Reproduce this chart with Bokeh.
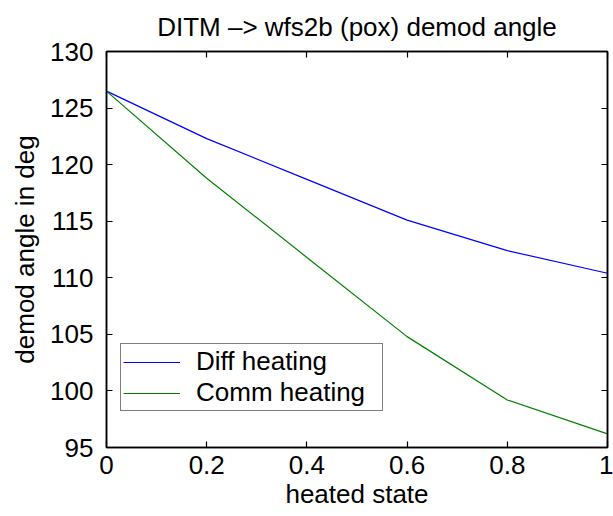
from bokeh.plotting import figure
from bokeh.models import Range1d, FixedTicker, LinearAxis, Legend, LegendItem
from bokeh.embed import file_html
from bokeh.resources import INLINE

# Data
heated_state = [0.0, 0.2, 0.4, 0.6, 0.8, 1.0]
diff_heating = [126.5, 122.3, 118.7, 115.1, 112.4, 110.4]
comm_heating = [126.5, 118.8, 111.8, 104.8, 99.2, 96.2]
x_ticks = [0, 0.2, 0.4, 0.6, 0.8, 1]
y_ticks = [95, 100, 105, 110, 115, 120, 125, 130]

FONT = "Liberation Sans"
FS = "26px"

p = figure(width=613, height=516, output_backend="svg", toolbar_location=None,
           x_range=Range1d(0, 1), y_range=Range1d(95, 130),
           min_border_left=106, min_border_right=6, min_border_top=51, min_border_bottom=69,
           title="DITM \u2013> wfs2b (pox) demod angle")
p.background_fill_color = "white"
p.border_fill_color = "white"
p.outline_line_color = "black"
p.outline_line_width = 1.5
p.grid.visible = False

p.title.text_font = FONT
p.title.text_font_size = FS
p.title.text_font_style = "normal"
p.title.align = "center"
p.title.vertical_align = "top"
p.title.text_color = "black"
p.title.standoff = 16

r1 = p.line(heated_state, diff_heating, line_color="#0000ff", line_width=1.2)
r2 = p.line(heated_state, comm_heating, line_color="#008000", line_width=1.2)

for ax in p.xaxis + p.yaxis:
    ax.major_label_text_font = FONT
    ax.major_label_text_font_size = FS
    ax.major_label_text_color = "black"
    ax.axis_label_text_font = FONT
    ax.axis_label_text_font_size = FS
    ax.axis_label_text_font_style = "normal"
    ax.axis_label_text_color = "black"
    ax.major_tick_in = 6
    ax.major_tick_out = 0
    ax.minor_tick_in = 0
    ax.minor_tick_out = 0
    ax.axis_line_width = 1.5
    ax.major_tick_line_width = 1.2
    ax.axis_line_color = "black"
    ax.major_tick_line_color = "black"

p.xaxis.ticker = FixedTicker(ticks=x_ticks)
p.xaxis.major_label_overrides = {0: "0", 1: "1"}
p.xaxis.axis_label = "heated state"
p.xaxis.major_label_standoff = 8
p.xaxis.axis_label_standoff = 2

p.yaxis.ticker = FixedTicker(ticks=y_ticks)
p.yaxis.axis_label = "demod angle in deg"
p.yaxis.major_label_standoff = 13
p.yaxis.axis_label_standoff = 7

# mirror ticks on top and right (no labels)
top = LinearAxis(ticker=FixedTicker(ticks=x_ticks),
                 major_label_overrides={t: "" for t in x_ticks},
                 major_label_standoff=0, major_tick_in=6, major_tick_out=0,
                 minor_tick_in=0, minor_tick_out=0, axis_line_width=1.5, major_tick_line_width=1.2)
right = LinearAxis(ticker=FixedTicker(ticks=y_ticks),
                   major_label_overrides={t: "" for t in y_ticks},
                   major_label_standoff=0, major_tick_in=6, major_tick_out=0,
                   minor_tick_in=0, minor_tick_out=0, axis_line_width=1.5, major_tick_line_width=1.2)
p.add_layout(top, "above")
p.add_layout(right, "right")

legend = Legend(items=[LegendItem(label="Diff heating", renderers=[r1]),
                       LegendItem(label="Comm heating", renderers=[r2])],
                location=(14, 36))
legend.label_text_font = FONT
legend.label_text_font_size = FS
legend.label_text_color = "black"
legend.border_line_color = "black"
legend.border_line_width = 1.5
legend.background_fill_color = "white"
legend.background_fill_alpha = 1.0
legend.padding = 2
legend.spacing = 0
legend.margin = 0
legend.glyph_width = 57
legend.label_standoff = 16
legend.label_width = 184
legend.label_height = 28
legend.glyph_height = 28
p.add_layout(legend, "center")

open("out.html", "w").write(file_html(p, INLINE))
